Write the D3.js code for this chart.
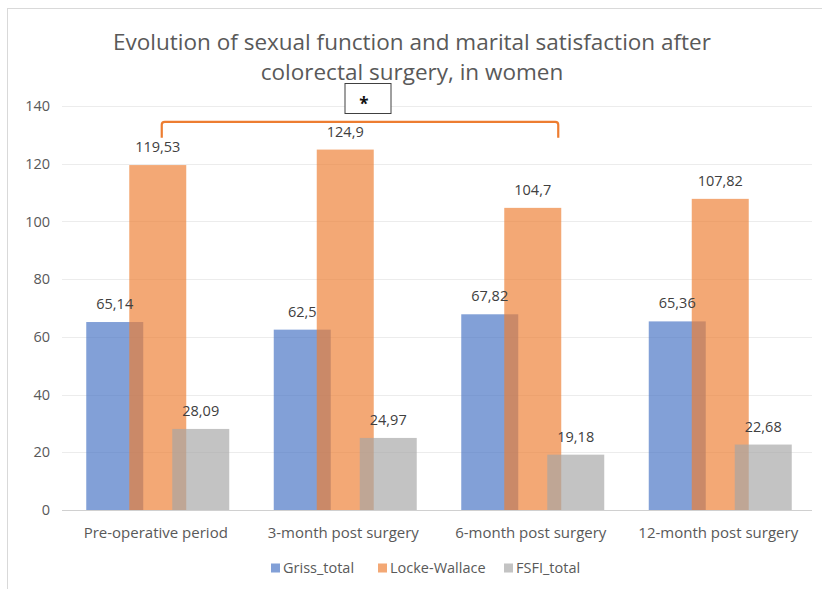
<!DOCTYPE html>
<html>
<head>
<meta charset="utf-8">
<script src="https://cdn.jsdelivr.net/npm/d3@7"></script>
<style>
  body { margin: 0; background: #fff; }
  text { font-family: "Open Sans", "Noto Sans", sans-serif; }
</style>
</head>
<body>
<svg id="chart" width="822" height="589"></svg>
<script>
// chart data
const categories = ["Pre-operative period", "3-month post surgery", "6-month post surgery", "12-month post surgery"];
const series = ["Griss_total", "Locke-Wallace", "FSFI_total"];
const grissValues = [65.14, 62.5, 67.82, 65.36];
const lockeValues = [119.53, 124.9, 104.7, 107.82];
const fsfiValues = [28.09, 24.97, 19.18, 22.68];
const yTicks = [0, 20, 40, 60, 80, 100, 120, 140];

const valuesBySeries = {
  "Griss_total": grissValues,
  "Locke-Wallace": lockeValues,
  "FSFI_total": fsfiValues
};
const colours = {
  "Griss_total": "#4472C4",
  "Locke-Wallace": "#ED7D31",
  "FSFI_total": "#A5A5A5"
};

const svg = d3.select("#chart");

// outer frame
svg.append("rect")
  .attr("x", 7.5).attr("y", 8.5)
  .attr("width", 840).attr("height", 620)
  .attr("fill", "none")
  .attr("stroke", "#d9d9d9")
  .attr("stroke-width", 1);

const plot = { left: 62, right: 812, top: 106, bottom: 510 };

const y = d3.scaleLinear().domain([0, 140]).range([plot.bottom, plot.top]);
const x0 = d3.scaleBand().domain(categories).range([plot.left + 2, plot.right + 2]).padding(0);
const xs = d3.scalePoint().domain(series).range([-43, 43]);
const barWidth = 57;
const groupCenter = (c) => x0(c) + x0.bandwidth() / 2;

// gridlines
svg.append("g")
  .selectAll("line")
  .data(yTicks.filter((t) => t > 0))
  .join("line")
  .attr("x1", plot.left).attr("x2", plot.right)
  .attr("y1", (d) => Math.round(y(d)) + 0.5)
  .attr("y2", (d) => Math.round(y(d)) + 0.5)
  .attr("stroke", "#ececec");

// y axis labels
svg.append("g")
  .selectAll("text")
  .data(yTicks)
  .join("text")
  .attr("x", 50)
  .attr("y", (d) => y(d))
  .attr("dy", "0.35em")
  .attr("text-anchor", "end")
  .attr("font-size", 14.5)
  .attr("fill", "#595959")
  .text((d) => d);

// bars, one series at a time so the later ones sit on top
series.forEach((s) => {
  const rows = categories.map((c, i) => ({ cat: c, value: valuesBySeries[s][i] }));
  const g = svg.append("g").attr("class", "series");
  g.selectAll("rect")
    .data(rows)
    .join("rect")
    .attr("x", (d) => groupCenter(d.cat) + xs(s) - barWidth / 2)
    .attr("y", (d) => y(d.value))
    .attr("width", barWidth)
    .attr("height", (d) => y(0) - y(d.value))
    .attr("fill", colours[s])
    .attr("fill-opacity", 0.67);
});

// value labels
series.forEach((s) => {
  const rows = categories.map((c, i) => ({ cat: c, value: valuesBySeries[s][i] }));
  svg.append("g")
    .selectAll("text")
    .data(rows)
    .join("text")
    .attr("x", (d) => groupCenter(d.cat) + xs(s))
    .attr("y", (d) => y(d.value) - 18)
    .attr("dy", "0.35em")
    .attr("text-anchor", "middle")
    .attr("font-size", 14.5)
    .attr("fill", "#404040")
    .text((d) => String(d.value).replace(".", ","));
});

// baseline
svg.append("line")
  .attr("x1", plot.left).attr("x2", plot.right)
  .attr("y1", y(0) + 0.5).attr("y2", y(0) + 0.5)
  .attr("stroke", "#d0d0d0");

// category labels
svg.append("g")
  .selectAll("text")
  .data(categories)
  .join("text")
  .attr("x", (d) => groupCenter(d) - 2)
  .attr("y", 533)
  .attr("dy", "0.35em")
  .attr("text-anchor", "middle")
  .attr("font-size", 15)
  .attr("fill", "#595959")
  .text((d) => d);

// title
const title = svg.append("text")
  .attr("text-anchor", "middle")
  .attr("font-size", 22.5)
  .attr("fill", "#595959");
title.append("tspan").attr("x", 412).attr("y", 50).text("Evolution of sexual function and marital satisfaction after");
title.append("tspan").attr("x", 412).attr("y", 80).text("colorectal surgery, in women");

// significance bracket between pre-op and 6-month
const bracketLeft = groupCenter(categories[0]) + xs("Locke-Wallace") + 4;
const bracketRight = groupCenter(categories[2]) + (xs("Locke-Wallace") + xs("FSFI_total")) / 2 + 4;
const bracketTop = y(134.5);
const bracketFoot = y(129);
svg.append("path")
  .attr("d", `M${bracketLeft},${bracketFoot} V${bracketTop + 3} Q${bracketLeft},${bracketTop} ${bracketLeft + 3},${bracketTop}
    H${bracketRight - 3} Q${bracketRight},${bracketTop} ${bracketRight},${bracketTop + 3} V${bracketFoot}`)
  .attr("fill", "none")
  .attr("stroke", "#ED7D31")
  .attr("stroke-width", 2.2);

const starX = (bracketLeft + bracketRight) / 2 + 8;
svg.append("rect")
  .attr("x", starX - 23).attr("y", 83.5)
  .attr("width", 46).attr("height", 30)
  .attr("fill", "#fff")
  .attr("stroke", "#404040")
  .attr("stroke-width", 1);
svg.append("text")
  .attr("x", starX - 4).attr("y", 101)
  .attr("dy", "0.55em")
  .attr("text-anchor", "middle")
  .attr("font-size", 17)
  .attr("font-weight", "bold")
  .attr("fill", "#111")
  .text("*");

// legend
const legendItems = [
  { name: "Griss_total", x: 271 },
  { name: "Locke-Wallace", x: 378 },
  { name: "FSFI_total", x: 504 }
];
const legend = svg.append("g")
  .selectAll("g")
  .data(legendItems)
  .join("g")
  .attr("transform", (d) => `translate(${d.x},568)`);
legend.append("rect")
  .attr("x", 0).attr("y", -4.5)
  .attr("width", 9).attr("height", 9)
  .attr("fill", (d) => colours[d.name])
  .attr("fill-opacity", 0.67);
legend.append("text")
  .attr("x", 12).attr("y", 0)
  .attr("dy", "0.35em")
  .attr("font-size", 14.5)
  .attr("fill", "#595959")
  .text((d) => d.name);
</script>
</body>
</html>
